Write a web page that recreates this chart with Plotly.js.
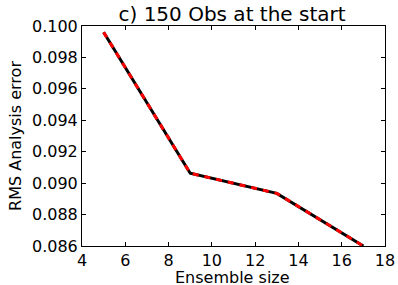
<!DOCTYPE html>
<html><head><meta charset="utf-8">
<script src="https://cdn.plot.ly/plotly-3.0.1.min.js"></script>
<style>html,body{margin:0;padding:0;background:#fff;}</style>
</head><body>
<div id="chart" style="width:398px;height:285px;"></div>
<script>
var ensembleSize = [5, 9, 13, 17];
var rmsError = [0.0996, 0.09063, 0.08935, 0.0860];
var xTicks = [4, 6, 8, 10, 12, 14, 16, 18];
var yTicks = [0.086, 0.088, 0.090, 0.092, 0.094, 0.096, 0.098, 0.100];
var titleText = 'c) 150 Obs at the start';
var xTitle = 'Ensemble size';
var yTitle = 'RMS Analysis error';

var font = {family: 'DejaVu Sans', size: 16, color: '#000'};
var data = [
  {x: ensembleSize, y: rmsError, mode: 'lines', line: {color: '#000', width: 3}, hoverinfo: 'skip'},
  {x: ensembleSize, y: rmsError, mode: 'lines', line: {color: '#ff0000', width: 3, dash: '6px,6px'}, hoverinfo: 'skip'}
];
var axisCommon = {showline: true, linecolor: '#000', linewidth: 1, mirror: 'ticks', ticks: 'inside', ticklen: 4, tickcolor: '#000', showgrid: false, zeroline: false, tickfont: font, automargin: false};
var layout = {
  width: 398, height: 285,
  margin: {l: 82, r: 13, t: 26, b: 39},
  paper_bgcolor: '#fff', plot_bgcolor: '#fff',
  showlegend: false,
  font: font,
  title: {text: titleText, font: {family: 'DejaVu Sans', size: 20, color: '#000'}, x: 0.583, xanchor: 'center', y: 0.952, yanchor: 'middle'},
  xaxis: Object.assign({}, axisCommon, {range: [4, 18], tickvals: xTicks, ticktext: xTicks.map(String)}),
  yaxis: Object.assign({}, axisCommon, {range: [0.086, 0.100], tickvals: yTicks, ticktext: yTicks.map(function(v){return v.toFixed(3);}), title: {text: yTitle, font: font, standoff: 6}}),
  annotations: [{text: xTitle, xref: 'paper', yref: 'paper', x: 0.497, y: -0.141, xanchor: 'center', yanchor: 'middle', showarrow: false, borderpad: 0, font: font}]
};
Plotly.newPlot('chart', data, layout, {staticPlot: true});
</script>
</body></html>
